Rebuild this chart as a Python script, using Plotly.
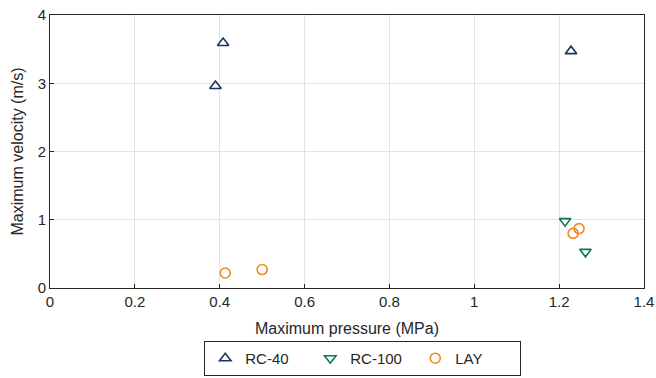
import plotly.graph_objects as go

rc40_x = [0.39, 0.408, 1.228]
rc40_y = [2.96, 3.59, 3.47]
rc100_x = [1.214, 1.262]
rc100_y = [0.98, 0.53]
lay_x = [0.413, 0.50, 1.233, 1.247]
lay_y = [0.22, 0.27, 0.80, 0.87]

fig = go.Figure()
fig.add_trace(go.Scatter(x=rc40_x, y=rc40_y, mode="markers", name="RC-40",
    marker=dict(symbol="triangle-up-open", size=10, color="#1b365d", line=dict(width=1.6))))
fig.add_trace(go.Scatter(x=rc100_x, y=rc100_y, mode="markers", name="RC-100",
    marker=dict(symbol="triangle-down-open", size=10, color="#0b7a4b", line=dict(width=1.6))))
fig.add_trace(go.Scatter(x=lay_x, y=lay_y, mode="markers", name="LAY",
    marker=dict(symbol="circle-open", size=10, color="#f0881e", line=dict(width=1.6))))

axis_common = dict(showline=True, linecolor="#262626", linewidth=1, mirror=True,
    ticks="inside", ticklen=4, tickcolor="#262626", showgrid=True, gridcolor="#e3e3e3",
    zeroline=False, tickfont=dict(size=15, color="#262626"), automargin=False)
fig.update_layout(
    width=656, height=378,
    margin=dict(l=50, r=12, t=15, b=90, autoexpand=False),
    paper_bgcolor="white", plot_bgcolor="white",
    font=dict(family="Liberation Sans, Arial, sans-serif", color="#262626"),
    xaxis=dict(range=[0, 1.4], dtick=0.2, title=dict(text="Maximum pressure (MPa)", font=dict(size=16), standoff=13), **axis_common),
    yaxis=dict(range=[0, 4], dtick=1, title=dict(text="Maximum velocity (m/s)", font=dict(size=16), standoff=10), **axis_common),
    legend=dict(orientation="h", xref="container", yref="container",
        x=0.553, xanchor="center", y=0.098, yanchor="top",
        bordercolor="#262626", borderwidth=1, font=dict(size=15),
        entrywidth=60, tracegroupgap=0),
    showlegend=True,
)
fig.write_html("out.html", config={"displayModeBar": False},
    post_script="document.body.style.margin='0';document.body.style.overflow='hidden';")
